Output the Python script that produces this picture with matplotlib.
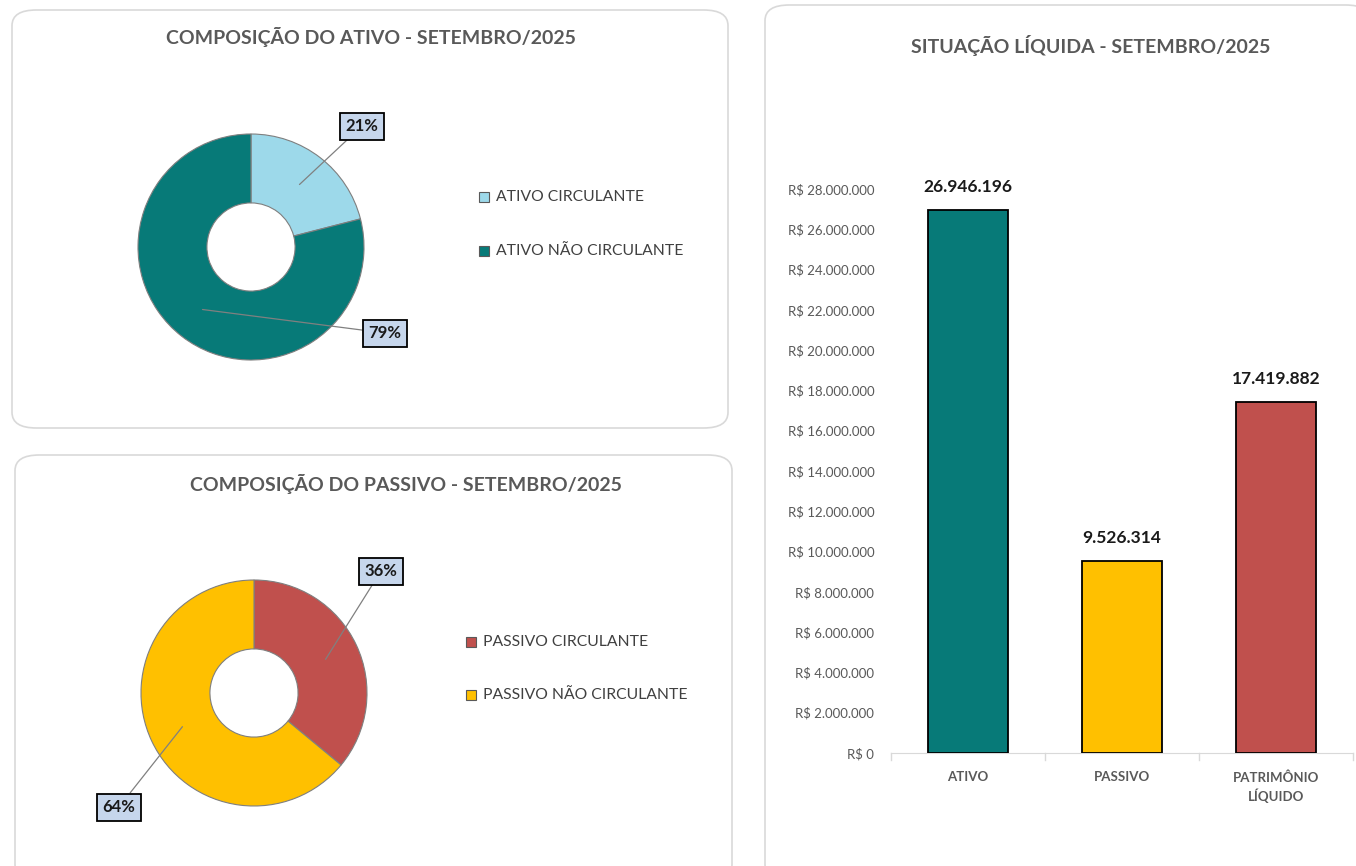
import numpy as np
import matplotlib.pyplot as plt
from matplotlib.patches import FancyBboxPatch, Rectangle
from matplotlib.ticker import FuncFormatter

plt.rcParams['font.family'] = ['Lato', 'DejaVu Sans']

# dados
ativo_labels = ["ATIVO CIRCULANTE", "ATIVO NÃO CIRCULANTE"]
ativo_pct = [21, 79]
ativo_cores = ["#9DD9EA", "#077A78"]

passivo_labels = ["PASSIVO CIRCULANTE", "PASSIVO NÃO CIRCULANTE"]
passivo_pct = [36, 64]
passivo_cores = ["#C0504D", "#FFC000"]

categorias = ["ATIVO", "PASSIVO", "PATRIMÔNIO\nLÍQUIDO"]
valores = [26946196, 9526314, 17419882]
bar_cores = ["#077A78", "#FFC000", "#C0504D"]

W, H = 1356, 866
fig = plt.figure(figsize=(W / 100, H / 100), dpi=100)
fig.patch.set_facecolor("white")

def fx(x):
    return x / W

def fy(y):
    return 1 - y / H

def painel(x0, y0, x1, y1):
    p = FancyBboxPatch((fx(x0), fy(y1)), fx(x1 - x0), (y1 - y0) / H,
                       boxstyle="round,pad=0,rounding_size=0.018",
                       transform=fig.transFigure, facecolor="white",
                       edgecolor="#D9D9D9", linewidth=1.2, zorder=-5)
    fig.patches.append(p)

painel(12, 10, 728, 428)
painel(15, 455, 732, 880)
painel(765, 5, 1370, 880)

titulo_cor = "#595959"

def donut(cx, cy, r, valores_pct, cores, nomes, titulo, tpos, label_pos, leg_x, leg_y):
    ax = fig.add_axes([fx(cx - r), fy(cy + r), 2 * r / W, 2 * r / H])
    ax.patch.set_alpha(0)
    ax.pie(valores_pct, colors=cores, startangle=90, counterclock=False,
           radius=1, wedgeprops=dict(width=0.61, edgecolor="#7F7F7F", linewidth=0.8))
    ax.set_xlim(-1.0, 1.0)
    ax.set_ylim(-1.0, 1.0)
    ax.set_aspect("equal")
    ax.axis("off")
    fig.text(fx(tpos[0]), fy(tpos[1]), titulo, ha="center", va="center",
             fontsize=14, fontweight="bold", color=titulo_cor)
    cum = 0
    for i, v in enumerate(valores_pct):
        ang = np.deg2rad(90 - 360 * (cum + v / 2) / 100)
        cum += v
        px, py = 0.7 * np.cos(ang), 0.7 * np.sin(ang)
        lx, ly = label_pos[i]
        ax.annotate(f"{v}%", xy=(px, py), xycoords="data",
                    xytext=(fx(lx), fy(ly)), textcoords="figure fraction",
                    ha="center", va="center", fontsize=12, fontweight="bold",
                    color="#1A1A1A",
                    bbox=dict(boxstyle="square,pad=0.33", facecolor="#C6D6EC",
                              edgecolor="black", linewidth=1.3),
                    arrowprops=dict(arrowstyle="-", color="#808080", lw=0.9,
                                    shrinkA=0, shrinkB=0),
                    annotation_clip=False)
    for i, nome in enumerate(nomes):
        y = leg_y[i]
        fig.patches.append(Rectangle((fx(leg_x - 5), fy(y + 5)), 10 / W, 10 / H,
                                     transform=fig.transFigure, facecolor=cores[i],
                                     edgecolor="#595959", linewidth=0.8))
        fig.text(fx(leg_x + 12), fy(y), nome, ha="left", va="center",
                 fontsize=11.3, color="#404040")

donut(251, 247, 113, ativo_pct, ativo_cores, ativo_labels,
      "COMPOSIÇÃO DO ATIVO - SETEMBRO/2025", (371, 37),
      [(362, 126), (385, 333)], 484, [197, 251])

donut(254, 693, 113, passivo_pct, passivo_cores, passivo_labels,
      "COMPOSIÇÃO DO PASSIVO - SETEMBRO/2025", (406, 484),
      [(381, 571), (119, 807)], 471, [642, 695])

# gráfico de barras
x0, x1 = 891, 1353
y_zero = 753
px_por_milhao = (753 - 189) / 28
ytop = 30
ax = fig.add_axes([fx(x0), fy(y_zero), (x1 - x0) / W, ytop * px_por_milhao / H])
ax.patch.set_alpha(0)
x = np.arange(len(categorias))
ax.bar(x, valores, width=0.52, color=bar_cores, edgecolor="black", linewidth=1.3, zorder=3)
for xi, v in zip(x, valores):
    ax.text(xi, v + 750000, f"{v:,}".replace(",", "."), ha="center", va="bottom",
            fontsize=12.5, fontweight="bold", color="#1A1A1A")
ax.set_xlim(-0.5, len(categorias) - 0.5)
ax.set_ylim(0, ytop * 1e6)
ax.set_yticks(np.arange(0, 28e6 + 1, 2e6))
ax.yaxis.set_major_formatter(FuncFormatter(
    lambda v, p: "R$ " + f"{int(v):,}".replace(",", ".")))
ax.set_xticks(x)
ax.set_xticklabels(categorias, fontsize=9.5, fontweight="bold", color="#595959",
                   linespacing=1.4)
ax.tick_params(axis="y", length=0, labelsize=9.5, labelcolor="#595959", pad=12)
ax.tick_params(axis="x", length=0, pad=13)
for s in ["top", "right", "left"]:
    ax.spines[s].set_visible(False)
ax.spines["bottom"].set_color("#D9D9D9")
for b in [-0.5, 0.5, 1.5, 2.5]:
    ax.plot([b, b], [0, -0.012], transform=ax.get_xaxis_transform(),
            color="#D9D9D9", lw=1, clip_on=False)
fig.text(fx(1091), fy(45), "SITUAÇÃO LÍQUIDA - SETEMBRO/2025", ha="center",
         va="center", fontsize=14, fontweight="bold", color=titulo_cor)

fig.savefig("out.png", dpi=100)
